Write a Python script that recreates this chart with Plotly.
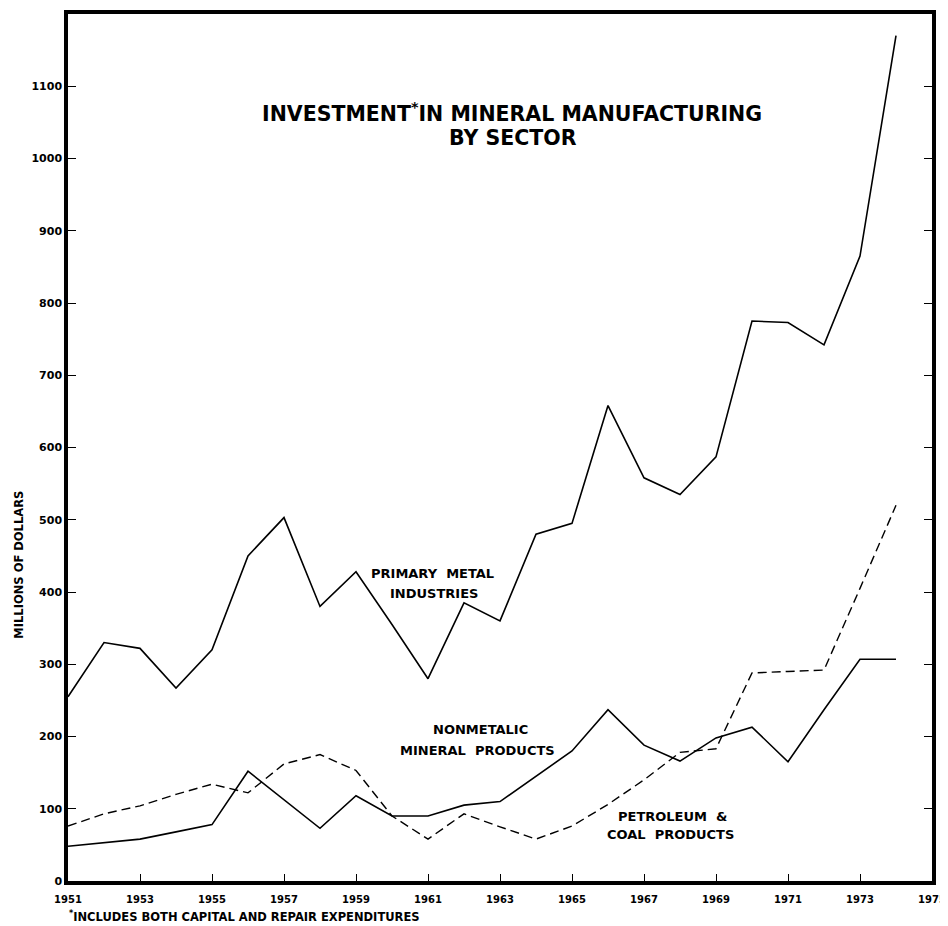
import plotly.graph_objects as go

years = list(range(1951, 1975))
primary_metal = [255, 330, 322, 267, 320, 450, 503, 380, 428, 355, 280, 385, 360, 480,
                 495, 658, 558, 535, 587, 775, 773, 742, 865, 1170]
nonmetallic = [48, 53, 58, 68, 78, 152, 113, 73, 118, 90, 90, 105, 110, 145,
               180, 237, 188, 166, 198, 213, 165, 237, 307, 307]
petroleum = [76, 93, 104, 120, 134, 122, 162, 175, 153, 90, 58, 93, 75, 58,
             76, 106, 140, 178, 183, 288, 290, 292, 405, 520]

x_ticks = list(range(1951, 1976, 2))
y_ticks = list(range(0, 1101, 100))

FONT = "DejaVu Sans"

# plot area targets x 65..935, y 12..880 on screen (page body adds ~8px margin)
PL, PT, PW, PH = 60, 2, 874, 871
FW, FH = 940, 918


def px(ax):
    return (ax - 65) / 870


def py(ay):
    return (880 - ay) / 868


fig = go.Figure()
fig.add_trace(go.Scatter(x=years, y=primary_metal, mode="lines",
                         line=dict(color="black", width=1.6), name="Primary metal industries"))
fig.add_trace(go.Scatter(x=years, y=nonmetallic, mode="lines",
                         line=dict(color="black", width=1.6), name="Nonmetalic mineral products"))
fig.add_trace(go.Scatter(x=years, y=petroleum, mode="lines",
                         line=dict(color="black", width=1.4, dash="9px,5px"),
                         name="Petroleum & coal products"))

fig.update_layout(
    width=FW, height=FH,
    margin=dict(l=PL, r=FW - PL - PW, t=PT, b=FH - PT - PH),
    paper_bgcolor="white", plot_bgcolor="white",
    showlegend=False,
    font=dict(family=FONT, color="black"),
)
fig.update_xaxes(
    range=[1951, 1975], tickvals=x_ticks, ticktext=[str(v) for v in x_ticks],
    showgrid=False, zeroline=False,
    showline=True, linecolor="black", linewidth=3.5, mirror=True,
    ticks="inside", ticklen=7, tickwidth=1.2, tickcolor="black",
    ticklabelstandoff=6, ticklabeloverflow="allow",
    tickfont=dict(family=FONT, size=10, color="black", weight="bold"),
)
fig.update_yaxes(
    range=[0, 1200], tickvals=y_ticks, ticktext=[str(v) for v in y_ticks],
    showgrid=False, zeroline=False,
    showline=True, linecolor="black", linewidth=3.5, mirror="ticks",
    ticks="inside", ticklen=8, tickwidth=1.2, tickcolor="black",
    tickfont=dict(family=FONT, size=11, color="black", weight="bold"),
)


def label(text, ax, ay, size, xanchor="center"):
    fig.add_annotation(xref="paper", yref="paper", x=px(ax), y=py(ay), text=text,
                       showarrow=False, xanchor=xanchor, yanchor="middle",
                       font=dict(family=FONT, size=size, color="black", weight="bold"))


label("INVESTMENT<sup>*</sup>IN MINERAL MANUFACTURING", 512, 111, 20.5)
label("BY SECTOR", 513, 136, 20.5)
label("PRIMARY  METAL", 432, 572, 13)
label("INDUSTRIES", 434, 592, 13)
label("NONMETALIC", 480, 728, 13)
label("MINERAL  PRODUCTS", 477, 749, 13)
label("PETROLEUM  &amp;", 674, 815, 13)
label("COAL  PRODUCTS", 672, 833, 13)
label("<sup>*</sup>INCLUDES BOTH CAPITAL AND REPAIR EXPENDITURES", 64, 916, 11.5, xanchor="left")

fig.add_annotation(xref="paper", yref="paper", x=px(16), y=py(563),
                   text="MILLIONS OF DOLLARS", textangle=-90, showarrow=False,
                   xanchor="center", yanchor="middle",
                   font=dict(family=FONT, size=11.5, color="black", weight="bold"))

fig.write_html("out.html", config={"displayModeBar": False})
